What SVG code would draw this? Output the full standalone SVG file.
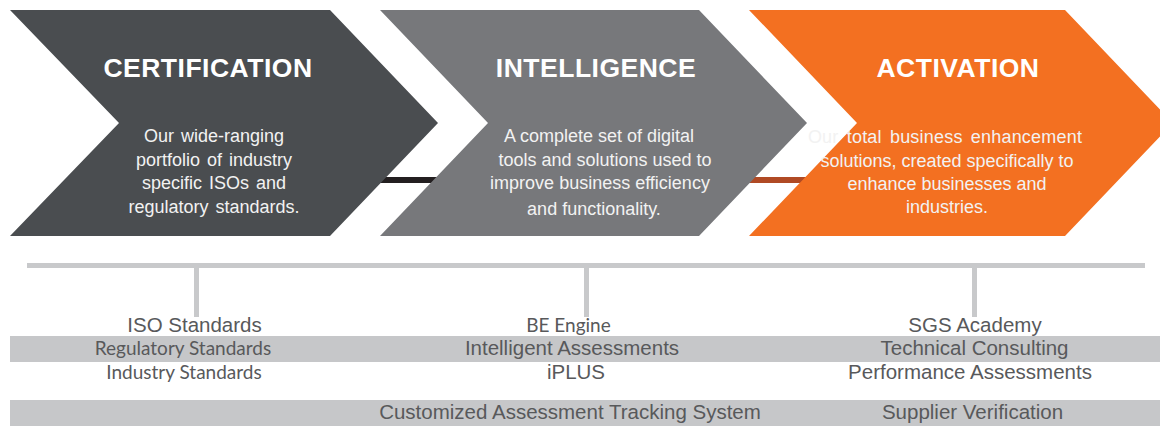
<svg xmlns="http://www.w3.org/2000/svg" width="1160" height="426" viewBox="0 0 1160 426">
<style>
.title{font-family:"Liberation Sans",Arial,sans-serif;font-weight:bold;font-size:26.5px;fill:#ffffff;text-anchor:middle;letter-spacing:0.5px}
.body{font-family:"Liberation Sans",Arial,sans-serif;font-size:18px;fill:#f2f2f2;text-anchor:middle}
.item{font-family:"Liberation Sans",Arial,sans-serif;font-size:20.5px;fill:#58595b;text-anchor:middle}
.itemc{font-family:Lato,"Liberation Sans",sans-serif;font-size:19px;fill:#58595b;text-anchor:middle}
.band{fill:#c6c7c9}
.rule{stroke:#c8c9cb;stroke-width:5;fill:none}
</style>
<rect width="1160" height="426" fill="#ffffff"/>
<g id="connectors">
  <rect x="330" y="177" width="160" height="6" fill="#231f20"/>
  <rect x="700" y="177" width="160" height="6" fill="#b04a24"/>
  <line class="rule" x1="27" y1="265.5" x2="1145" y2="265.5"/>
  <line class="rule" x1="196.5" y1="265" x2="196.5" y2="317"/>
  <line class="rule" x1="586.5" y1="265" x2="586.5" y2="317"/>
  <line class="rule" x1="974.5" y1="265" x2="974.5" y2="317"/>
</g>
<g id="certification">
  <path d="M10,10 L330,10 L438,123 L330,236 L10,236 L119,123 Z" fill="#4a4d50"/>
  <text class="title" x="208" y="77">CERTIFICATION</text>
  <text class="body" font-size="17.5" word-spacing="2" x="214" y="142">Our wide-ranging</text>
  <text class="body" font-size="17.5" word-spacing="2" x="214" y="166">portfolio of industry</text>
  <text class="body" font-size="17.5" word-spacing="2" x="214" y="189">specific ISOs and</text>
  <text class="body" font-size="17.5" word-spacing="2" x="214" y="213">regulatory standards.</text>
</g>
<g id="intelligence">
  <path d="M380,10 L699,10 L807,123 L699,236 L380,236 L488,123 Z" fill="#77787b"/>
  <text class="title" x="596" y="77">INTELLIGENCE</text>
  <text class="body" x="599" y="142">A complete set of digital</text>
  <text class="body" font-size="16.2" x="605" y="166">tools and solutions used to</text>
  <text class="body" x="600" y="189">improve business efficiency</text>
  <text class="body" x="594" y="215">and functionality.</text>
</g>
<g id="activation">
  <path d="M749,10 L1065,10 L1173,123 L1065,236 L749,236 L857,123 Z" fill="#f37021"/>
  <text class="title" x="958" y="77">ACTIVATION</text>
  <text class="body" word-spacing="3" letter-spacing="0.2" x="945" y="143">Our total business enhancement</text>
  <text class="body" x="947" y="167">solutions, created specifically to</text>
  <text class="body" x="947" y="190">enhance businesses and</text>
  <text class="body" x="947" y="213">industries.</text>
</g>
<g id="bands">
  <rect class="band" x="10" y="336" width="1150" height="26"/>
  <rect class="band" x="10" y="400" width="1150" height="26"/>
</g>
<g id="certification-items">
  <text class="item" x="194.5" y="332">ISO Standards</text>
  <text class="itemc" x="183" y="355">Regulatory Standards</text>
  <text class="itemc" x="184" y="379">Industry Standards</text>
</g>
<g id="intelligence-items">
  <text class="itemc" font-size="18.5" x="568.5" y="332">BE Engine</text>
  <text class="item" x="572" y="355">Intelligent Assessments</text>
  <text class="item" x="576" y="379">iPLUS</text>
  <text class="item" x="570" y="419">Customized Assessment Tracking System</text>
</g>
<g id="activation-items">
  <text class="item" x="975" y="332">SGS Academy</text>
  <text class="item" x="974.5" y="355">Technical Consulting</text>
  <text class="item" x="970" y="379">Performance Assessments</text>
  <text class="item" x="972.5" y="419">Supplier Verification</text>
</g>
</svg>
